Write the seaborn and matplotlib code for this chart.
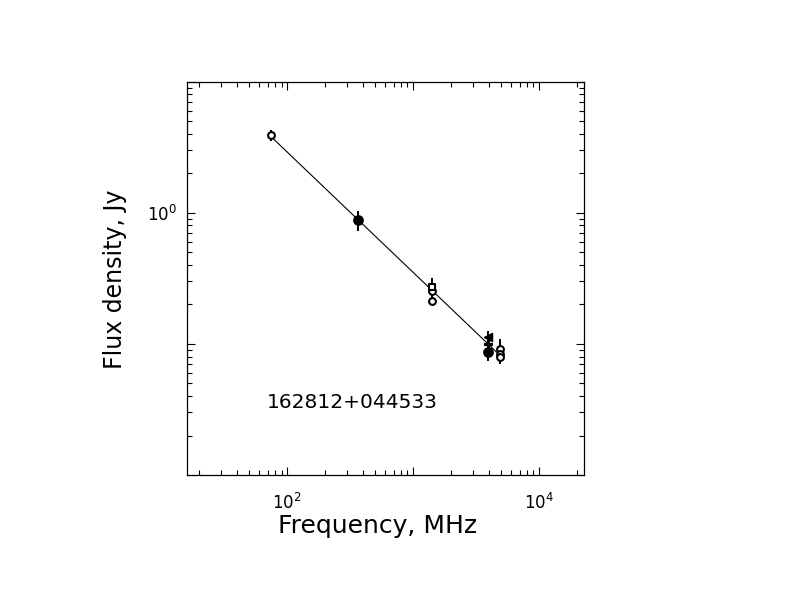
import numpy as np
import pandas as pd
import matplotlib
matplotlib.use("Agg")
import matplotlib.pyplot as plt
import matplotlib.ticker as mticker
import seaborn as sns

# 数据
freq = [74, 365, 1400, 1400, 1400, 3900, 3900, 3900, 4850, 4850, 4850]
flux = [3.9, 0.88, 0.27, 0.255, 0.214, 0.112, 0.100, 0.0863, 0.0916, 0.0839, 0.079]
flux_err = [0.35, 0.16, 0.05, 0.02, 0.01, 0.013, 0.01, 0.012, 0.017, 0.012, 0.009]
point_kind = ["open", "filled", "square", "open", "open", "tri", "plus", "filled",
              "open", "open", "open"]

fit_freq = [75, 4600]
fit_flux = [3.78, 0.0863]

source_name = "162812+044533"
x_lim = [15.9, 22800]
y_lim = [0.01, 10]
x_major = [10, 100, 1000, 10000]
x_major_labels = ["", r"$10^{2}$", "", r"$10^{4}$"]
y_major = [0.01, 0.1, 1, 10]
y_major_labels = ["", "", r"$10^{0}$", ""]

df = pd.DataFrame({"freq": freq, "flux": flux, "err": flux_err, "kind": point_kind})
fit_df = pd.DataFrame({"freq": fit_freq, "flux": fit_flux})

sns.set_style("ticks")
plt.rcParams["font.family"] = ["DejaVu Sans"]
plt.rcParams["mathtext.fontset"] = "dejavusans"
plt.rcParams["text.color"] = "black"
plt.rcParams["axes.labelcolor"] = "black"
plt.rcParams["xtick.color"] = "black"
plt.rcParams["ytick.color"] = "black"

fig = plt.figure(figsize=(7.92, 6.12), dpi=100)
ax = fig.add_axes([0.2357, 0.2239, 0.5021, 0.6426])

# 拟合直线
sns.lineplot(data=fit_df, x="freq", y="flux", color="black", linewidth=0.8, ax=ax)

# 误差棒
ax.errorbar(df["freq"], df["flux"], yerr=df["err"], fmt="none", ecolor="black",
            elinewidth=1.4, capsize=0, zorder=3)

# 不同符号
styles = {
    "open": dict(marker="o", s=24, facecolor="white", linewidth=1.5),
    "filled": dict(marker="o", s=40, facecolor="black", linewidth=1.4),
    "square": dict(marker="s", s=24, facecolor="white", linewidth=1.5),
    "tri": dict(marker="<", s=34, facecolor="black", linewidth=1.0),
    "plus": dict(marker="P", s=34, facecolor="black", linewidth=0.8),
}
for kind, st in styles.items():
    sub = df[df["kind"] == kind]
    sns.scatterplot(data=sub, x="freq", y="flux", marker=st["marker"], s=st["s"],
                    facecolor=st["facecolor"], edgecolor="black",
                    linewidth=st["linewidth"], ax=ax, zorder=4, legend=False)

ax.set_xscale("log")
ax.set_yscale("log")
ax.set_xlim(x_lim)
ax.set_ylim(y_lim)

ax.xaxis.set_major_locator(mticker.FixedLocator(x_major))
ax.xaxis.set_major_formatter(mticker.FixedFormatter(x_major_labels))
ax.yaxis.set_major_locator(mticker.FixedLocator(y_major))
ax.yaxis.set_major_formatter(mticker.FixedFormatter(y_major_labels))
ax.xaxis.set_minor_locator(mticker.LogLocator(base=10, subs=np.arange(2, 10)))
ax.yaxis.set_minor_locator(mticker.LogLocator(base=10, subs=np.arange(2, 10)))
ax.xaxis.set_minor_formatter(mticker.NullFormatter())
ax.yaxis.set_minor_formatter(mticker.NullFormatter())

ax.tick_params(which="both", direction="in", top=True, right=True, color="black", width=0.8)
ax.tick_params(which="major", length=6)
ax.tick_params(which="minor", length=3.5)
ax.tick_params(axis="x", which="major", pad=13, labelsize=12)
ax.tick_params(axis="y", which="major", pad=7, labelsize=12)

for sp in ax.spines.values():
    sp.set_color("black")
    sp.set_linewidth(0.9)

ax.set_xlabel("Frequency, MHz", fontsize=18)
ax.set_ylabel("Flux density, Jy", fontsize=17)
ax.xaxis.set_label_coords(0.479, -0.1)
ax.yaxis.set_label_coords(-0.15, 0.498)

ax.text(0.201, 0.184, source_name, transform=ax.transAxes, fontsize=14.5,
        ha="left", va="center")

fig.savefig("out.png", dpi=100, facecolor="white")
